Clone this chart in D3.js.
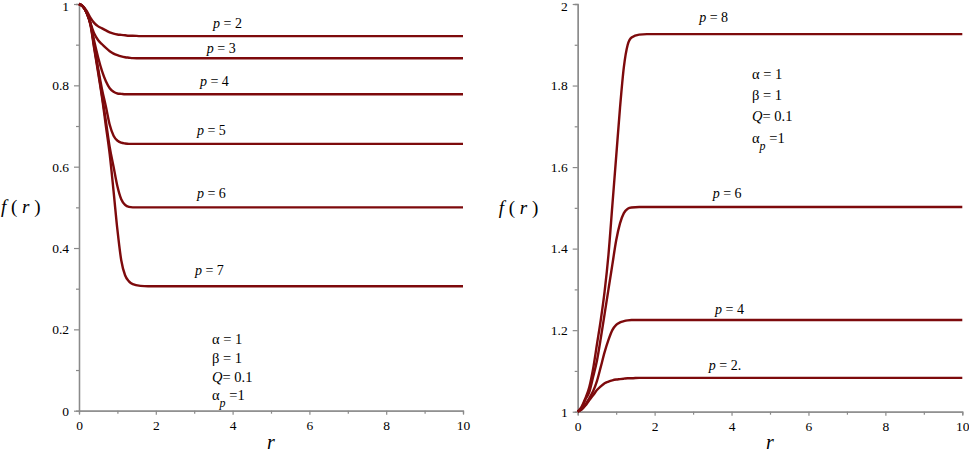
<!DOCTYPE html>
<html>
<head>
<meta charset="utf-8">
<script src="https://cdn.jsdelivr.net/npm/d3@7"></script>
<style>
  body { margin: 0; background: #fff; }
</style>
</head>
<body>
<svg id="chart" width="969" height="453"></svg>
<script>
// sample points (r values shared by every series)
const rValues = [0, 0.1, 0.2, 0.3, 0.4, 0.5, 0.6, 0.7, 0.8, 0.9, 1.0, 1.1, 1.2, 1.3, 1.4, 1.6, 1.8, 2.0, 10];

// left panel
const leftP2 = [1, 0.995, 0.983, 0.966, 0.953, 0.945, 0.940, 0.935, 0.930, 0.927, 0.925, 0.924, 0.923, 0.922, 0.922, 0.921, 0.921, 0.921, 0.921];
const leftP3 = [1, 0.994, 0.980, 0.952, 0.927, 0.911, 0.901, 0.892, 0.884, 0.878, 0.874, 0.871, 0.869, 0.868, 0.867, 0.8665, 0.8665, 0.8665, 0.8665];
const leftP4 = [1, 0.994, 0.979, 0.953, 0.907, 0.868, 0.835, 0.810, 0.793, 0.784, 0.780, 0.779, 0.778, 0.778, 0.778, 0.778, 0.778, 0.778, 0.778];
const leftP5 = [1, 0.994, 0.978, 0.951, 0.897, 0.840, 0.790, 0.748, 0.703, 0.676, 0.664, 0.659, 0.657, 0.656, 0.656, 0.656, 0.656, 0.656, 0.656];
const leftP6 = [1, 0.994, 0.978, 0.950, 0.892, 0.835, 0.775, 0.712, 0.648, 0.600, 0.552, 0.520, 0.506, 0.501, 0.500, 0.500, 0.500, 0.500, 0.500];
const leftP7 = [1, 0.994, 0.978, 0.948, 0.888, 0.830, 0.770, 0.700, 0.630, 0.540, 0.445, 0.370, 0.333, 0.318, 0.311, 0.307, 0.306, 0.306, 0.306];

// right panel
const rightP2 = [1, 1.005, 1.015, 1.028, 1.040, 1.053, 1.062, 1.070, 1.074, 1.077, 1.079, 1.080, 1.081, 1.082, 1.082, 1.083, 1.083, 1.083, 1.083];
const rightP4 = [1, 1.006, 1.017, 1.033, 1.050, 1.075, 1.110, 1.146, 1.176, 1.200, 1.213, 1.219, 1.222, 1.224, 1.225, 1.225, 1.225, 1.225, 1.225];
const rightP6 = [1, 1.008, 1.030, 1.048, 1.085, 1.125, 1.180, 1.240, 1.300, 1.360, 1.420, 1.462, 1.487, 1.498, 1.501, 1.502, 1.502, 1.502, 1.502];
const rightP8 = [1, 1.012, 1.033, 1.060, 1.105, 1.165, 1.225, 1.295, 1.385, 1.505, 1.625, 1.745, 1.845, 1.900, 1.918, 1.925, 1.926, 1.926, 1.926];

// curve labels: text and the (r, f) point where each starts
const leftLabels = [["2", 3.49, 0.941], ["3", 3.33, 0.880], ["4", 3.15, 0.798], ["5", 3.07, 0.678], ["6", 3.07, 0.523], ["7", 3.02, 0.333]];
const rightLabels = [["8", 3.16, 1.957], ["6", 3.51, 1.523], ["4", 3.57, 1.240], ["2.", 3.41, 1.102]];

const xTicks = [0, 2, 4, 6, 8, 10];
const leftYTicks = [0, 0.2, 0.4, 0.6, 0.8, 1];
const rightYTicks = [1, 1.2, 1.4, 1.6, 1.8, 2];

const lineColor = "#7d0a0c";
const axisColor = "#8a8a8a";
const serif = "'Liberation Serif', 'Times New Roman', Tinos, 'DejaVu Serif', 'Noto Serif', serif";

const svg = d3.select("#chart");

function drawPanel(cfg) {
  const x = d3.scaleLinear().domain([0, 10]).range(cfg.xRange);
  const y = d3.scaleLinear().domain(cfg.yDomain).range(cfg.yRange);
  const g = svg.append("g").attr("font-family", serif);

  // minor ticks first, then major ones with labels
  const minorX = d3.range(1, 10, 2);
  const minorY = d3.range(cfg.yDomain[0] + 0.1, cfg.yDomain[1], 0.2);

  g.append("g")
    .attr("transform", `translate(0,${cfg.yRange[0]})`)
    .call(d3.axisBottom(x).tickValues(minorX).tickSize(3).tickFormat(""));
  g.append("g")
    .attr("transform", `translate(${cfg.xRange[0]},0)`)
    .call(d3.axisLeft(y).tickValues(minorY).tickSize(3).tickFormat(""));

  g.append("g")
    .attr("transform", `translate(0,${cfg.yRange[0]})`)
    .call(d3.axisBottom(x).tickValues(xTicks).tickSize(4).tickSizeOuter(0).tickPadding(6).tickFormat(d3.format("d")));
  const yAx = g.append("g")
    .attr("transform", `translate(${cfg.xRange[0]},0)`)
    .call(d3.axisLeft(y).tickValues(cfg.yTicks).tickSize(5).tickSizeOuter(0).tickPadding(5).tickFormat((d) => String(+d.toFixed(1))));
  // keep the top label inside the picture
  yAx.selectAll(".tick text").filter((d) => d === cfg.yDomain[1]).attr("dy", "0.5em");

  g.selectAll("g").attr("font-family", serif);
  g.selectAll(".domain").attr("stroke", axisColor).attr("stroke-width", 1.3);
  g.selectAll(".tick line").attr("stroke", axisColor).attr("stroke-width", 1.2);
  g.selectAll(".tick text")
    .attr("fill", "#000")
    .attr("font-family", serif)
    .attr("font-size", 13.5);

  const line = d3.line()
    .x((d) => x(d[0]))
    .y((d) => y(d[1]))
    .curve(d3.curveMonotoneX);

  g.append("g")
    .selectAll("path")
    .data(cfg.series)
    .join("path")
    .attr("d", (vals) => line(rValues.map((r, i) => [r, vals[i]])))
    .attr("fill", "none")
    .attr("stroke", lineColor)
    .attr("stroke-width", 2.4);

  // p = n labels
  cfg.labels.forEach(([txt, r, f]) => {
    const t = g.append("text")
      .attr("x", x(r))
      .attr("y", y(f))
      .attr("font-family", serif)
      .attr("font-size", 14);
    t.append("tspan").attr("font-style", "italic").text("p");
    t.append("tspan").text(" = " + txt);
  });

  // axis titles
  const midY = (cfg.yRange[0] + cfg.yRange[1]) / 2;
  const fr = g.append("text")
    .attr("x", cfg.xRange[0] - cfg.fLabelOffset)
    .attr("y", midY + 6)
    .attr("font-family", serif)
    .attr("font-size", 19)
    .attr("xml:space", "preserve");
  fr.append("tspan").attr("font-style", "italic").text("f");
  fr.append("tspan").text(" ( ");
  fr.append("tspan").attr("font-style", "italic").text("r");
  fr.append("tspan").text(" )");

  g.append("text")
    .attr("x", (cfg.xRange[0] + cfg.xRange[1]) / 2)
    .attr("y", 449)
    .attr("text-anchor", "middle")
    .attr("font-family", serif)
    .attr("font-size", 20)
    .attr("font-style", "italic")
    .text("r");

  // parameter block
  const px = cfg.paramPos[0];
  const lines = cfg.paramLines;
  const param = (yy) => g.append("text").attr("x", px).attr("y", yy)
    .attr("font-family", serif).attr("font-size", 14.5);
  param(lines[0]).text("α = 1");
  param(lines[1]).text("β = 1");
  const q = param(lines[2]);
  q.append("tspan").attr("font-style", "italic").text("Q");
  q.append("tspan").text("= 0.1");
  const a = param(lines[3]);
  a.append("tspan").text("α");
  a.append("tspan").attr("dy", 7).attr("font-style", "italic").attr("font-size", 12).text("p");
  a.append("tspan").attr("dy", -7).text(" =1");
}

drawPanel({
  xRange: [79, 463],
  yDomain: [0, 1],
  yRange: [410.7, 4],
  yTicks: leftYTicks,
  series: [leftP2, leftP3, leftP4, leftP5, leftP6, leftP7],
  labels: leftLabels,
  fLabelOffset: 78,
  paramPos: [212],
  paramLines: [344, 363, 382, 400]
});

drawPanel({
  xRange: [577.7, 962.3],
  yDomain: [1, 2],
  yRange: [411.7, 4],
  yTicks: rightYTicks,
  series: [rightP2, rightP4, rightP6, rightP8],
  labels: rightLabels,
  fLabelOffset: 79,
  paramPos: [752],
  paramLines: [79, 100, 121, 143]
});
</script>
</body>
</html>
